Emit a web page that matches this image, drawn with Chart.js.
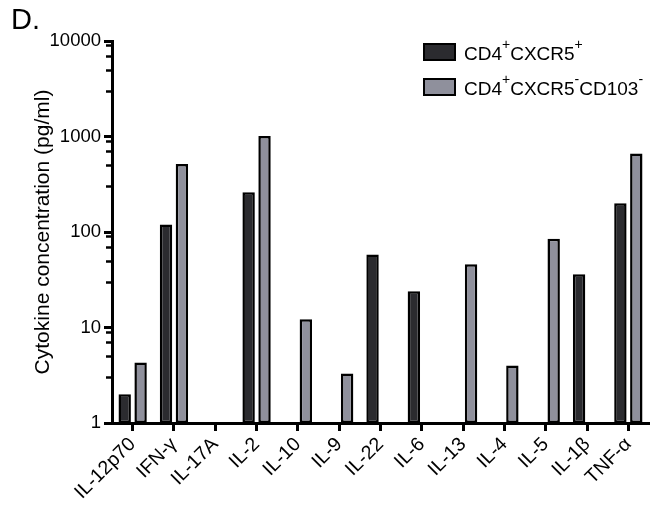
<!DOCTYPE html>
<html>
<head>
<meta charset="utf-8">
<script src="https://cdn.jsdelivr.net/npm/chart.js@4"></script>
<style>
  body { margin: 0; background: #fff; }
  #wrap { position: relative; width: 659px; height: 518px; font-family: "Liberation Sans", Arial, Helvetica, sans-serif; color: #000; }
  #chart { position: absolute; left: 0; top: 0; }
  #panel { position: absolute; left: 11px; top: 5px; font-size: 29px; line-height: 28px; }
  .box { position: absolute; left: 423px; width: 29px; height: 14px; border: 2.5px solid #000; }
  .lbl { position: absolute; left: 464px; font-size: 19px; line-height: 18px; white-space: nowrap; }
  .lbl span { position: relative; top: -11px; font-size: 14px; }
</style>
</head>
<body>
<div id="wrap">
  <canvas id="chart" width="659" height="518"></canvas>
  <div id="panel">D.</div>
  <div class="box" id="box0" style="top:43px"></div>
  <div class="lbl" style="top:45px">CD4<span>+</span>CXCR5<span>+</span></div>
  <div class="box" id="box1" style="top:78px"></div>
  <div class="lbl" style="top:80px">CD4<span>+</span>CXCR5<span>-</span>CD103<span>-</span></div>
</div>
<script>
const categories = ["IL-12p70", "IFN-γ", "IL-17A", "IL-2", "IL-10", "IL-9", "IL-22", "IL-6", "IL-13", "IL-4", "IL-5", "IL-1β", "TNF-α"];
const cxcr5Pos = [2.0, 120, null, 260, null, null, 58, 24, null, null, null, 36, 200];
const cxcr5Neg = [4.3, 515, null, 1010, 12.2, 3.3, null, null, 46, 4.0, 85, null, 665];
const yMajorTicks = [1, 10, 100, 1000, 10000];
const yMinorSteps = [3, 5, 7, 9];

const darkFill = "#2b2b2f";
const greyFill = "#8f909c";
document.getElementById("box0").style.background = darkFill;
document.getElementById("box1").style.background = greyFill;

Chart.defaults.font.family = '"Liberation Sans", Arial, Helvetica, sans-serif';
Chart.defaults.color = "#000";

// short minor ticks on the log axis
const minorTicks = {
  id: "minorTicks",
  afterDraw(chart) {
    const yScale = chart.scales.y;
    const ctx = chart.ctx;
    const x0 = chart.chartArea.left;
    ctx.save();
    ctx.strokeStyle = "#000";
    ctx.lineWidth = 2.5;
    yMajorTicks.slice(0, -1).forEach((d) => {
      yMinorSteps.forEach((s) => {
        const py = Math.round(yScale.getPixelForValue(d * s)) + 0.5;
        ctx.beginPath();
        ctx.moveTo(x0 - 1, py);
        ctx.lineTo(x0 - 6, py);
        ctx.stroke();
      });
    });
    ctx.restore();
  },
};

const ctx = document.getElementById("chart").getContext("2d");
const chart = new Chart(ctx, {
  type: "bar",
  data: {
    labels: categories,
    datasets: [
      {
        label: "CD4+CXCR5+",
        data: cxcr5Pos,
        backgroundColor: darkFill,
        borderColor: "#000",
        borderWidth: 2.5,
        borderSkipped: false,
      },
      {
        label: "CD4+CXCR5-CD103-",
        data: cxcr5Neg,
        backgroundColor: greyFill,
        borderColor: "#000",
        borderWidth: 2.5,
        borderSkipped: false,
      },
    ],
  },
  options: {
    responsive: false,
    animation: false,
    categoryPercentage: 0.77,
    barPercentage: 0.78,
    layout: { padding: { left: 31, top: 41, right: 10, bottom: 0 } },
    plugins: {
      legend: { display: false },
      tooltip: { enabled: false },
    },
    scales: {
      x: {
        offset: true,
        afterFit: (s) => { s.height = 95; },
        ticks: { font: { size: 19.5 }, color: "#000", minRotation: 45, maxRotation: 45, padding: 2, autoSkip: false },
        grid: { offset: false, drawOnChartArea: false, tickLength: 8, tickWidth: 3, tickColor: "#000" },
        border: { color: "#000", width: 3 },
      },
      y: {
        type: "logarithmic",
        min: 1,
        max: 10000,
        afterBuildTicks: (s) => { s.ticks = yMajorTicks.map((v) => ({ value: v })); },
        afterFit: (s) => { s.width = 81; },
        ticks: { callback: (v) => String(v), font: { size: 18.5 }, color: "#000", padding: 3 },
        grid: { drawOnChartArea: false, tickLength: 8, tickWidth: 3, tickColor: "#000" },
        border: { color: "#000", width: 3 },
        title: { display: true, text: "Cytokine concentration (pg/ml)", font: { size: 21 }, color: "#000", padding: { top: 0, bottom: 0 } },
      },
    },
  },
  plugins: [minorTicks],
});
</script>
</body>
</html>
